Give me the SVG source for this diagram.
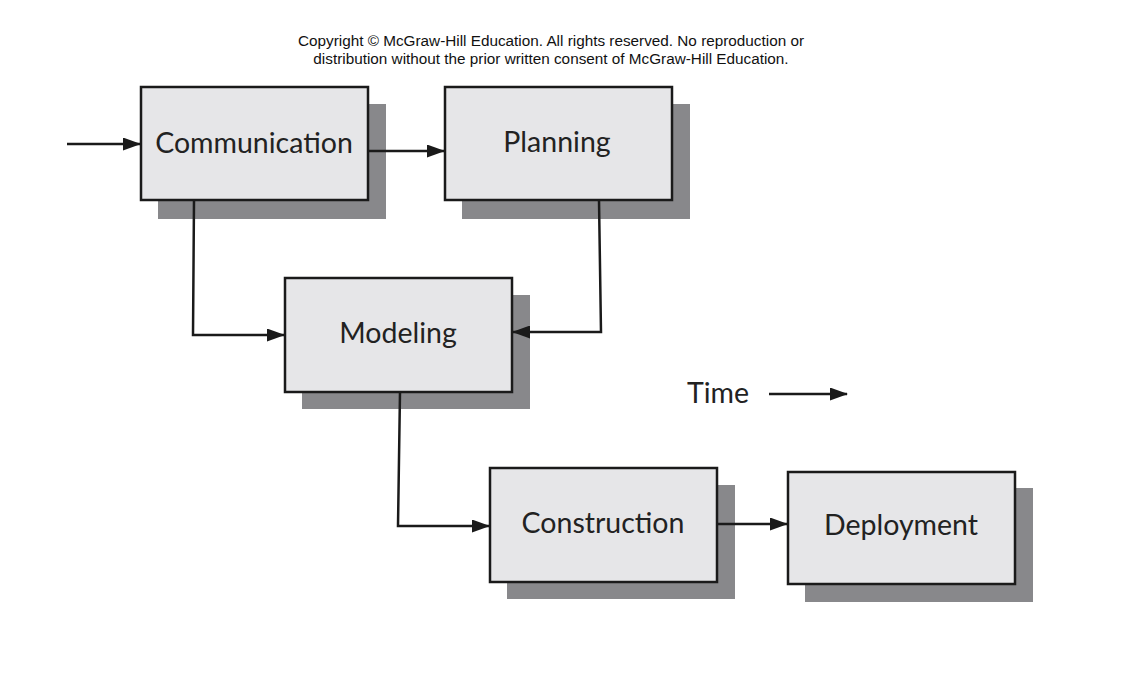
<svg xmlns="http://www.w3.org/2000/svg" width="1140" height="682" viewBox="0 0 1140 682">
<style>
.shadow{fill:#88888b}
.box{fill:#e6e6e8;stroke:#1a1a1a;stroke-width:2.5}
.lbl{font-family:Lato,"Noto Sans",sans-serif;font-size:28.5px;fill:#222;text-anchor:middle}
.copy{font-family:"Liberation Sans",Arial,sans-serif;font-size:15.3px;fill:#111;text-anchor:middle}
.conn{fill:none;stroke:#1a1a1a;stroke-width:2.5}
</style>
<defs>
<marker id="ah" markerWidth="18" markerHeight="13" refX="17" refY="6.5" orient="auto" markerUnits="userSpaceOnUse">
<path d="M0,0 L18,6.5 L0,13 Z" fill="#1a1a1a"/>
</marker>
</defs>
<rect width="1140" height="682" fill="#fff"/>
<text class="copy" x="551" y="46">Copyright © McGraw-Hill Education. All rights reserved. No reproduction or</text>
<text class="copy" x="551" y="64">distribution without the prior written consent of McGraw-Hill Education.</text>
<g id="communication">
<rect class="shadow" x="158" y="104" width="228" height="115"/>
<rect class="box" x="141" y="87" width="227" height="113"/>
<text class="lbl" x="254" y="153">Communication</text>
</g>
<g id="planning">
<rect class="shadow" x="462" y="104" width="228" height="115"/>
<rect class="box" x="445" y="87" width="227" height="113"/>
<text class="lbl" x="557" y="152">Planning</text>
</g>
<g id="modeling">
<rect class="shadow" x="302" y="295" width="228" height="114"/>
<rect class="box" x="285" y="278" width="227" height="114"/>
<text class="lbl" x="398" y="343">Modeling</text>
</g>
<g id="construction">
<rect class="shadow" x="507" y="485" width="228" height="114"/>
<rect class="box" x="490" y="468" width="227" height="114"/>
<text class="lbl" x="603" y="533">Construction</text>
</g>
<g id="deployment">
<rect class="shadow" x="805" y="488" width="228" height="114"/>
<rect class="box" x="788" y="472" width="227" height="112"/>
<text class="lbl" x="901" y="535">Deployment</text>
</g>
<g id="time">
<text class="lbl" x="718" y="403">Time</text>
</g>
<g id="connectors">
<path class="conn" d="M67,144 L140,144" marker-end="url(#ah)"/>
<path class="conn" d="M368,151 L444,151" marker-end="url(#ah)"/>
<path class="conn" d="M194,200 L193,335 L284,335" marker-end="url(#ah)"/>
<path class="conn" d="M599,200 L601,332 L513,332" marker-end="url(#ah)"/>
<path class="conn" d="M400,392 L398,526 L489,526" marker-end="url(#ah)"/>
<path class="conn" d="M717,524 L787,524" marker-end="url(#ah)"/>
<path class="conn" d="M769,394 L847,394" marker-end="url(#ah)"/>
</g>
</svg>
